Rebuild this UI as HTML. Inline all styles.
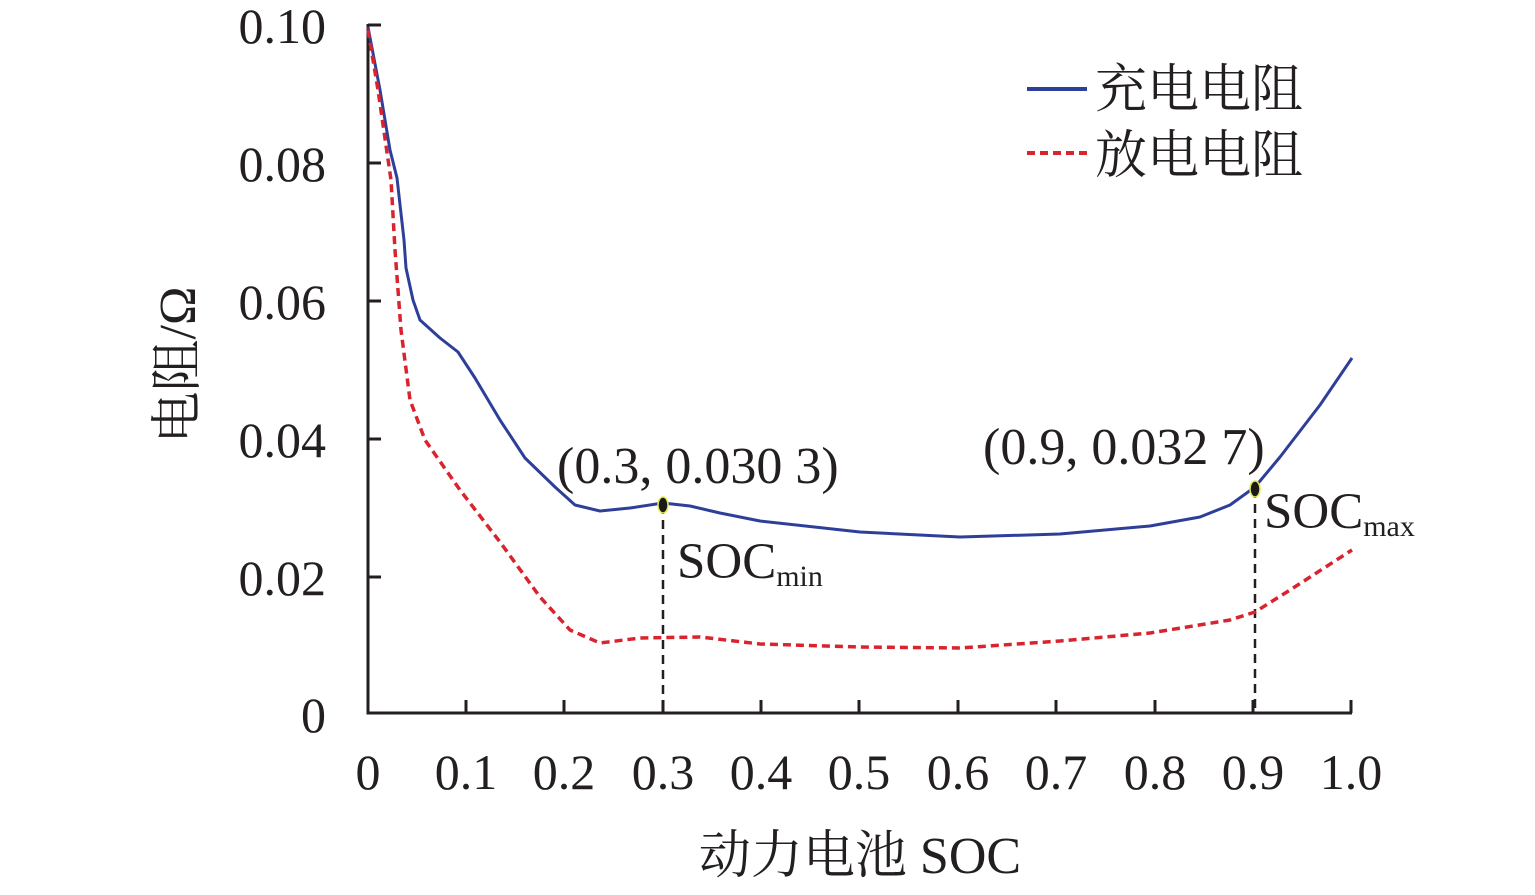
<!DOCTYPE html>
<html><head><meta charset="utf-8"><style>
body{margin:0;background:#fff}
svg text{font-family:"Liberation Serif","Noto Serif CJK SC",serif;fill:#231f20}
</style></head><body>
<svg width="1535" height="890" viewBox="0 0 1535 890" xmlns="http://www.w3.org/2000/svg">
<g stroke="#231f20" stroke-width="3" fill="none">
<path d="M368,24 V713 H1352"/>
<path d="M368,25 h13 M368,163 h13 M368,301 h13 M368,439 h13 M368,577 h13"/>
<path d="M466,713 v-13 M564,713 v-13 M663,713 v-13 M761,713 v-13 M859,713 v-13 M958,713 v-13 M1056,713 v-13 M1155,713 v-13 M1253,713 v-13 M1351,713 v-13"/>
</g>
<g stroke="#231f20" stroke-width="2.5" stroke-dasharray="9,6">
<line x1="663" y1="505" x2="663" y2="713"/>
<line x1="1255" y1="489" x2="1255" y2="713"/>
</g>
<path d="M368,27 L380,90 390,150 397,178 404,240 406,268 413,300 420,320 440,338 458,352 475,378 500,420 525,458 555,487 575,505 600,511 630,508 663,503 690,506 720,513 760,521 860,532 960,537 1060,534 1150,526 1200,517 1230,505 1255,487 1280,457 1320,405 1352,358" fill="none" stroke="#2e3f9a" stroke-width="3" stroke-linejoin="round"/>
<path d="M368,30 L378,90 391,180 395,250 401,330 410,400 425,440 460,490 500,542 540,597 570,630 600,643 640,638 700,637 760,644 860,647 960,648 1060,641 1150,633 1230,620 1255,612 1290,590 1352,550" fill="none" stroke="#d9232e" stroke-width="3.5" stroke-dasharray="8,5" stroke-linejoin="round"/>
<ellipse cx="663" cy="505" rx="5" ry="8" fill="#1a1a1a" stroke="#e5e84a" stroke-width="1.5"/>
<ellipse cx="1255" cy="489" rx="5" ry="8" fill="#1a1a1a" stroke="#e5e84a" stroke-width="1.5"/>
<g font-size="50" text-anchor="end">
<text x="326" y="43">0.10</text><text x="326" y="181">0.08</text><text x="326" y="319">0.06</text><text x="326" y="457">0.04</text><text x="326" y="595">0.02</text><text x="326" y="732">0</text>
</g>
<g font-size="50" text-anchor="middle">
<text x="368" y="789">0</text><text x="466" y="789">0.1</text><text x="564" y="789">0.2</text><text x="663" y="789">0.3</text><text x="761" y="789">0.4</text><text x="859" y="789">0.5</text><text x="958" y="789">0.6</text><text x="1056" y="789">0.7</text><text x="1155" y="789">0.8</text><text x="1253" y="789">0.9</text><text x="1351" y="789">1.0</text>
</g>
<text x="860" y="873" font-size="52" text-anchor="middle">动力电池 SOC</text>
<text transform="translate(195,365) rotate(-90)" font-size="52" text-anchor="middle">电阻/Ω</text>
<text x="557" y="483" font-size="52">(0.3, 0.030 3)</text>
<text x="983" y="464" font-size="52">(0.9, 0.032 7)</text>
<text x="677" y="578" font-size="51">SOC<tspan font-size="30" dy="8">min</tspan></text>
<text x="1264" y="528" font-size="51">SOC<tspan font-size="30" dy="8">max</tspan></text>
<line x1="1027" y1="89" x2="1087" y2="89" stroke="#2e3f9a" stroke-width="4"/>
<line x1="1027" y1="153" x2="1087" y2="153" stroke="#d9232e" stroke-width="4" stroke-dasharray="8,5"/>
<text x="1095" y="107" font-size="52">充电电阻</text>
<text x="1095" y="173" font-size="52">放电电阻</text>
</svg>
</body></html>
